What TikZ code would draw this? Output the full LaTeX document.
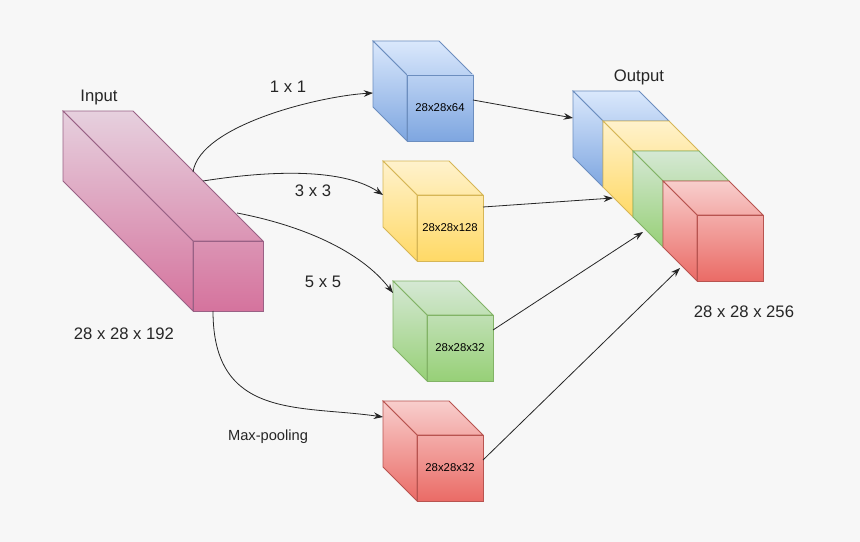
\documentclass[tikz,border=0pt]{standalone}
\usepackage{fontspec}
\setmainfont{Liberation Sans}
\usetikzlibrary{arrows.meta}
\definecolor{bg}{HTML}{F7F7F7}
\definecolor{bA}{HTML}{DAE8FC}\definecolor{bB}{HTML}{7EA6E0}\definecolor{bS}{HTML}{6C8EBF}
\definecolor{yA}{HTML}{FFF2CC}\definecolor{yB}{HTML}{FFD966}\definecolor{yS}{HTML}{D6B656}
\definecolor{gA}{HTML}{D5E8D4}\definecolor{gB}{HTML}{97D077}\definecolor{gS}{HTML}{82B366}
\definecolor{rA}{HTML}{F8CECC}\definecolor{rB}{HTML}{EA6B66}\definecolor{rS}{HTML}{B85450}
\definecolor{pA}{HTML}{E6D0DE}\definecolor{pB}{HTML}{D5739D}\definecolor{pS}{HTML}{996185}
% #1 x, #2 y (back top-left), #3 w, #4 h, #5 depth, #6 color prefix
\newcommand{\mycube}[6]{%
  \pgfmathsetmacro{\fr}{100-100*#5/(#4+#5)}%
  \colorlet{cTop}{#6A}\colorlet{cBot}{#6B}\colorlet{cMid}{#6A!\fr!#6B}%
  \shade[top color=cTop,bottom color=cMid,draw=#6S,line width=0.6pt] (#1,#2) -- ++(#3,0) -- ++(#5,#5) -- ++(-#3,0) -- cycle;
  \shade[top color=cTop,bottom color=cBot,draw=#6S,line width=0.6pt] (#1,#2) -- ++(#5,#5) -- ++(0,#4) -- ++(-#5,-#5) -- cycle;
  \shade[top color=cMid,bottom color=cBot,draw=#6S,line width=0.6pt] (#1+#5,#2+#5) rectangle ++(#3,#4);
}
\begin{document}
\begin{tikzpicture}[x=0.75pt,y=-0.75pt,
  lab/.style={font=\fontsize{12.5}{14}\selectfont,text=black!85},
  small/.style={font=\fontsize{8.5}{10}\selectfont},
  arr/.style={-{Stealth[length=7pt,width=5pt]},line width=0.6pt,black!85},
  ln/.style={line width=0.6pt,black!85}]
\fill[bg] (0,0) rectangle (860,542);
\useasboundingbox (0,0) rectangle (860,542);
% input
\mycube{63}{111}{70}{70}{130}{p}
% output stack
\mycube{573}{91}{66}{66}{30}{b}
\mycube{603}{121}{66}{66}{30}{y}
\mycube{633}{151}{66}{66}{30}{g}
\mycube{663}{181}{66}{66}{34}{r}
% small cubes
\mycube{373}{41}{66}{66}{34}{b}
\mycube{383}{161}{66}{66}{34}{y}
\mycube{393}{281}{66}{66}{34}{g}
\mycube{383}{401}{66}{66}{34}{r}
\node[small] (lb) at (440,108) {28x28x64};
\node[small] (ly) at (450,228) {28x28x128};
\node[small] (lg) at (460,348) {28x28x32};
\node[small] (lr) at (450,468) {28x28x32};
\node[lab] (tin) at (99,97) {Input};
\node[lab] (tout) at (639,77) {Output};
\node[lab] (tin2) at (124,334) {28 x 28 x 192};
\node[lab] (tout2) at (744,312) {28 x 28 x 256};
\node[lab] (t1) at (288,87) {1 x 1};
\node[lab] (t3) at (313,191) {3 x 3};
\node[lab] (t5) at (323,282) {5 x 5};
\node[lab,font=\fontsize{11}{13}\selectfont] (tm) at (268,437) {Max-pooling};
% connector endpoints
\coordinate (s1) at (193,172); \coordinate (e1) at (373,93);
\coordinate (s3) at (203,181); \coordinate (e3) at (383,195);
\coordinate (s5) at (237,213); \coordinate (e5) at (393,293);
\coordinate (sm) at (213,311); \coordinate (em) at (383,417);
\coordinate (ob) at (473,100); \coordinate (ib) at (573,118);
\coordinate (oy) at (483,207); \coordinate (iy) at (613,198);
\coordinate (og) at (493,330); \coordinate (ig) at (643,232);
\coordinate (or) at (483,460); \coordinate (ir) at (680,268);
\draw[arr] (s1) .. controls (200,125) and (320,96) .. (e1);
\draw[arr] (s3) .. controls (260,172) and (340,166) .. (e3);
\draw[arr] (s5) .. controls (300,225) and (360,250) .. (e5);
\draw[arr] (sm) .. controls (213,420) and (300,405) .. (em);
\draw[arr] (ob) -- (ib);
\draw[arr] (oy) -- (iy);
\draw[arr] (og) -- (ig);
\draw[arr] (or) -- (ir);
\end{tikzpicture}
\end{document}
